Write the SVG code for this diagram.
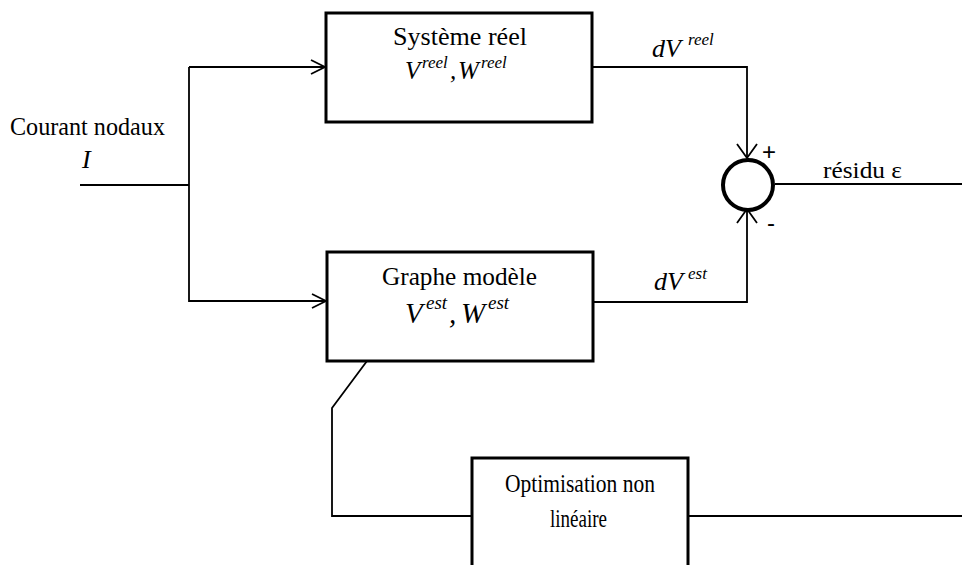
<svg xmlns="http://www.w3.org/2000/svg" width="962" height="565" viewBox="0 0 962 565">
<style>
.box{fill:#fff;stroke:#000;stroke-width:3}
.ln{fill:none;stroke:#000;stroke-width:1.8}
.t{font-family:"Liberation Serif","Times New Roman",serif;fill:#000}
.i{font-style:italic}
.s{font-family:"Liberation Sans",Arial,sans-serif;fill:#000}
</style>
<rect width="962" height="565" fill="#fff"/>
<g id="connectors">
<polyline class="ln" points="80,185 189,185"/>
<polyline class="ln" points="189,67 189,302"/>
<polyline class="ln" points="189,67 325,67"/>
<polyline class="ln" points="311,60 325,67 311,74"/>
<polyline class="ln" points="189,301 326,301"/>
<polyline class="ln" points="312,294 326,301 312,308"/>
<polyline class="ln" points="592,67 747,67 747,158"/>
<polyline class="ln" points="737,144 747,158 757,144"/>
<polyline class="ln" points="593,302 747,302 747,211"/>
<polyline class="ln" points="737,223 747,209 757,223"/>
<polyline class="ln" points="775,184 962,184"/>
<polyline class="ln" points="367,361 332,408 332,516 472,516"/>
<polyline class="ln" points="688,516 962,516"/>
</g>
<g id="input">
<text class="t" x="10" y="135" font-size="25" textLength="155" lengthAdjust="spacingAndGlyphs">Courant nodaux</text>
<text class="t i" x="82" y="168" font-size="26">I</text>
</g>
<g id="systeme-reel">
<rect class="box" x="326" y="13" width="266" height="109"/>
<text class="t" x="393" y="45" font-size="25" textLength="134" lengthAdjust="spacingAndGlyphs">Système réel</text>
<text class="t i" font-size="25"><tspan x="405" y="79">V</tspan><tspan x="422" y="68" font-size="17">reel</tspan><tspan x="450" y="79">,</tspan><tspan x="458" y="79">W</tspan><tspan x="481" y="68" font-size="17">reel</tspan></text>
</g>
<g id="graphe-modele">
<rect class="box" x="327" y="252" width="266" height="109"/>
<text class="t" x="382" y="285" font-size="26" textLength="155" lengthAdjust="spacingAndGlyphs">Graphe modèle</text>
<text class="t i" font-size="29"><tspan x="405" y="323">V</tspan><tspan x="426" y="309" font-size="19">est</tspan><tspan x="449" y="323">,</tspan><tspan x="461" y="323">W</tspan><tspan x="488" y="309" font-size="19">est</tspan></text>
</g>
<g id="sommateur">
<circle cx="748" cy="185" r="25" fill="#fff" stroke="#000" stroke-width="4"/>
<text class="s" x="762" y="160" font-size="24">+</text>
<text class="s" x="767" y="231" font-size="24">-</text>
</g>
<g id="labels">
<text class="t i" font-size="26"><tspan x="652" y="57">dV</tspan><tspan x="688" y="45" font-size="17">reel</tspan></text>
<text class="t i" font-size="26"><tspan x="654" y="290">dV</tspan><tspan x="688" y="279" font-size="17">est</tspan></text>
<text class="t" x="823" y="178" font-size="23" textLength="79" lengthAdjust="spacingAndGlyphs">résidu ε</text>
</g>
<g id="optimisation">
<rect class="box" x="472" y="458" width="216" height="130"/>
<text class="t" x="505" y="492" font-size="25" textLength="150" lengthAdjust="spacingAndGlyphs">Optimisation non</text>
<text class="t" x="550" y="527" font-size="25" textLength="57" lengthAdjust="spacingAndGlyphs">linéaire</text>
</g>
</svg>
